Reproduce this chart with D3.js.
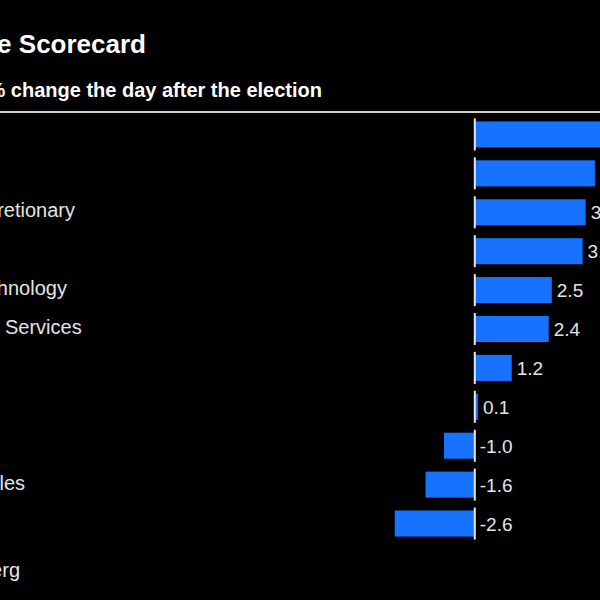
<!DOCTYPE html>
<html>
<head>
<meta charset="utf-8">
<script src="https://cdn.jsdelivr.net/npm/d3@7"></script>
<style>
  html, body { margin: 0; padding: 0; background: #000; }
  svg { display: block; }
</style>
</head>
<body>
<script>
const titleText = "Post-Election Trade Scorecard";
const subtitleText = "S&P 500 sectors' % change the day after the election";
const sourceText = "Source: Bloomberg";
const categories = [
  "Financials", "Health Care", "Consumer Discretionary", "Industrials",
  "Information Technology", "Communication Services", "Materials", "Energy",
  "Real Estate", "Consumer Staples", "Utilities"
];
const values = [4.6, 3.9, 3.6, 3.5, 2.5, 2.4, 1.2, 0.1, -1.0, -1.6, -2.6];
const valueLabels = values.map(v => v.toFixed(1));

const W = 600, H = 600;
const font = "'Liberation Sans', Arial, Helvetica, sans-serif";
const svg = d3.select("body").append("svg").attr("width", W).attr("height", H)
  .style("background", "#000");

const x = d3.scaleLinear().domain([-3, 4]).range([382.4, 598]);
const y = d3.scaleBand().domain(categories).range([115, 543])
  .paddingInner(0.33).paddingOuter(0.165);

// title & subtitle
svg.append("text").attr("x", 146).attr("y", 53).attr("text-anchor", "end")
  .attr("fill", "#fff").style("font", `bold 26px ${font}`).text(titleText);
svg.append("text").attr("x", 322).attr("y", 97).attr("text-anchor", "end")
  .attr("fill", "#fff").style("font", `bold 20px ${font}`).text(subtitleText);

// top rule
svg.append("line").attr("x1", 0).attr("x2", W).attr("y1", 112).attr("y2", 112)
  .attr("stroke", "#d0d0d0").attr("stroke-width", 2);

// bars
svg.selectAll("rect.bar").data(categories).join("rect").attr("class", "bar")
  .attr("x", (d, i) => x(Math.min(0, values[i])))
  .attr("width", (d, i) => Math.abs(x(values[i]) - x(0)))
  .attr("y", d => y(d)).attr("height", y.bandwidth())
  .attr("fill", "#1672ff");

// zero line segments per row
svg.selectAll("line.zero").data(categories).join("line").attr("class", "zero")
  .attr("x1", x(0)).attr("x2", x(0))
  .attr("y1", d => y(d) - 3).attr("y2", d => y(d) + y.bandwidth() + 3)
  .attr("stroke", "#e8e8e8").attr("stroke-width", 2);

// category labels, left aligned at a common x
const labelG = svg.append("g");
const tmp = labelG.append("text").style("font", `20px ${font}`).text("Consumer Discretionary");
const refW = tmp.node().getComputedTextLength();
tmp.remove();
const x0 = 75 - refW;
labelG.selectAll("text").data(categories).join("text")
  .attr("x", x0).attr("y", d => y(d) + y.bandwidth() / 2 + 5)
  .attr("fill", "#e4e4e4").style("font", `20px ${font}`).text(d => d);

// value labels
svg.selectAll("text.val").data(categories).join("text").attr("class", "val")
  .attr("x", (d, i) => Math.max(x(values[i]), x(0)) + 5)
  .attr("y", (d, i) => y(d) + y.bandwidth() / 2 + 7)
  .attr("fill", "#e4e4e4").style("font", `19px ${font}`)
  .text((d, i) => valueLabels[i]);

// source
svg.append("text").attr("x", 20).attr("y", 577).attr("text-anchor", "end")
  .attr("fill", "#e4e4e4").style("font", `20px ${font}`).text(sourceText);
</script>
</body>
</html>
